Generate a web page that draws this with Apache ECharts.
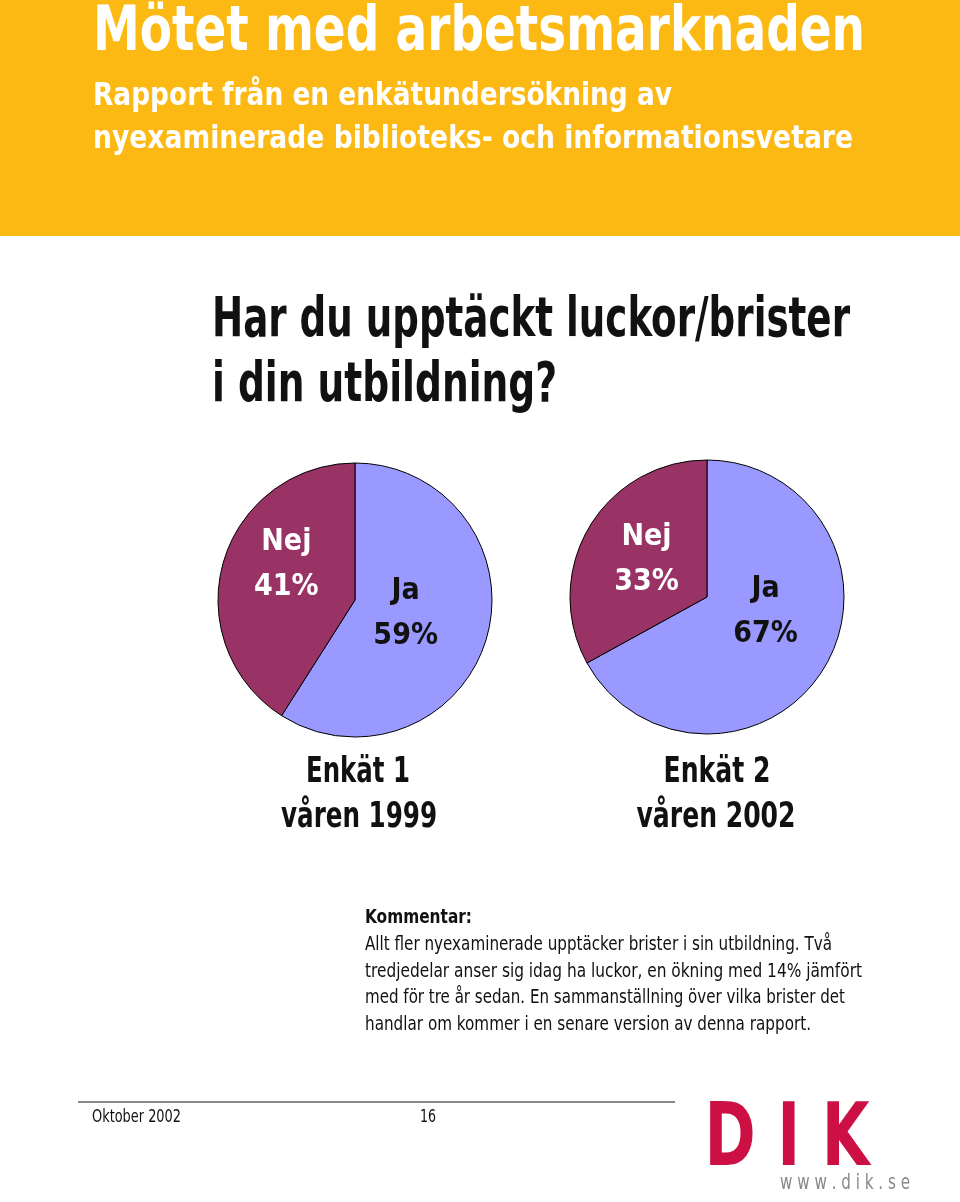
<!DOCTYPE html>
<html>
<head>
<meta charset="utf-8">
<script src="https://cdn.jsdelivr.net/npm/echarts@6/dist/echarts.min.js"></script>
<style>
  html, body { margin: 0; padding: 0; background: #fff; }
  #chart { width: 960px; height: 1202px; }
</style>
</head>
<body>
<div id="chart"></div>
<script>
// survey answers, percent
const answers = ['Ja', 'Nej'];
const survey1 = [59, 41];   // Enkät 1, våren 1999
const survey2 = [67, 33];   // Enkät 2, våren 2002

const FONT = '"Liberation Sans Narrow", "DejaVu Sans Condensed", "Noto Sans", sans-serif';
const colors = { Ja: '#9999FF', Nej: '#993366' };

const chart = echarts.init(document.getElementById('chart'));

// the original uses a condensed face, so squeeze text to the width it takes there
const measureCtx = document.createElement('canvas').getContext('2d');

function pieSeries(values, center, shifts) {
  return {
    type: 'pie',
    center: center,
    radius: 137,
    startAngle: 90,
    clockwise: true,
    animation: false,
    silent: true,
    itemStyle: { borderColor: '#000', borderWidth: 1 },
    label: {
      show: true,
      position: 'inside',
      fontFamily: FONT,
      fontWeight: 'bold',
      fontSize: 30,
      lineHeight: 45,
      formatter: p => p.name + '\n' + p.value + '%'
    },
    labelLayout: function (params) {
      const s = shifts[params.dataIndex];
      return { dx: s[0], dy: s[1] };
    },
    data: values.map((v, i) => ({
      name: answers[i],
      value: v,
      itemStyle: { color: colors[answers[i]] },
      label: { color: answers[i] === 'Nej' ? '#fff' : '#111' }
    }))
  };
}

function txt(x, y, text, size, width, opts) {
  opts = opts || {};
  const font = (opts.weight || 'bold') + ' ' + size + 'px ' + FONT;
  measureCtx.font = font;
  const sx = width ? width / measureCtx.measureText(text).width : 1;
  return {
    type: 'text',
    x: x, y: y,
    scaleX: sx,
    silent: true,
    style: {
      text: text,
      fill: opts.fill || '#111',
      font: font,
      textAlign: opts.align || 'left',
      textVerticalAlign: 'middle'
    }
  };
}

const commentLines = [
  'Allt fler nyexaminerade upptäcker brister i sin utbildning. Två',
  'tredjedelar anser sig idag ha luckor, en ökning med 14% jämfört',
  'med för tre år sedan. En sammanställning över vilka brister det',
  'handlar om kommer i en senare version av denna rapport.'
];
const commentWidths = [467, 497, 480, 446];

const graphics = [
  { type: 'rect', shape: { x: 0, y: 0, width: 960, height: 236 }, style: { fill: '#FDB913' }, silent: true },
  txt(93, 34, 'Mötet med arbetsmarknaden', 63, 772, { fill: '#fff' }),
  txt(93, 97, 'Rapport från en enkätundersökning av', 32, 579, { fill: '#fff' }),
  txt(93, 140, 'nyexaminerade biblioteks- och informationsvetare', 32, 760, { fill: '#fff' }),
  txt(212, 321, 'Har du upptäckt luckor/brister', 56, 638),
  txt(212, 386, 'i din utbildning?', 56, 345),
  txt(358, 773, 'Enkät 1', 36, 104, { align: 'center' }),
  txt(359, 818, 'våren 1999', 36, 156, { align: 'center' }),
  txt(717, 773, 'Enkät 2', 36, 107, { align: 'center' }),
  txt(716, 818, 'våren 2002', 36, 159, { align: 'center' }),
  txt(365, 918, 'Kommentar:', 19, 107),
  { type: 'line', shape: { x1: 78, y1: 1102, x2: 675, y2: 1102 }, style: { stroke: '#888', lineWidth: 2 }, silent: true },
  txt(92, 1118, 'Oktober 2002', 17, 89, { weight: 'normal' }),
  txt(420, 1118, '16', 17, 16, { weight: 'normal' }),
  txt(787, 1142, 'D I K', 88, 165, { fill: '#CC1044' }),
  txt(845, 1184, 'w w w . d i k . s e', 21, 130, { fill: '#888', weight: 'normal', align: 'center' })
];
// DIK logo is centred
graphics[graphics.length - 2].style.textAlign = 'center';
commentLines.forEach((l, i) =>
  graphics.push(txt(365, 945 + i * 26.7, l, 19, commentWidths[i], { weight: 'normal' })));

chart.setOption({
  animation: false,
  graphic: graphics,
  series: [
    pieSeries(survey1, [355, 600], [[-18, -6], [0, -15]]),
    pieSeries(survey2, [707, 597], [[-3, -22], [1, -1]])
  ]
});
</script>
</body>
</html>
